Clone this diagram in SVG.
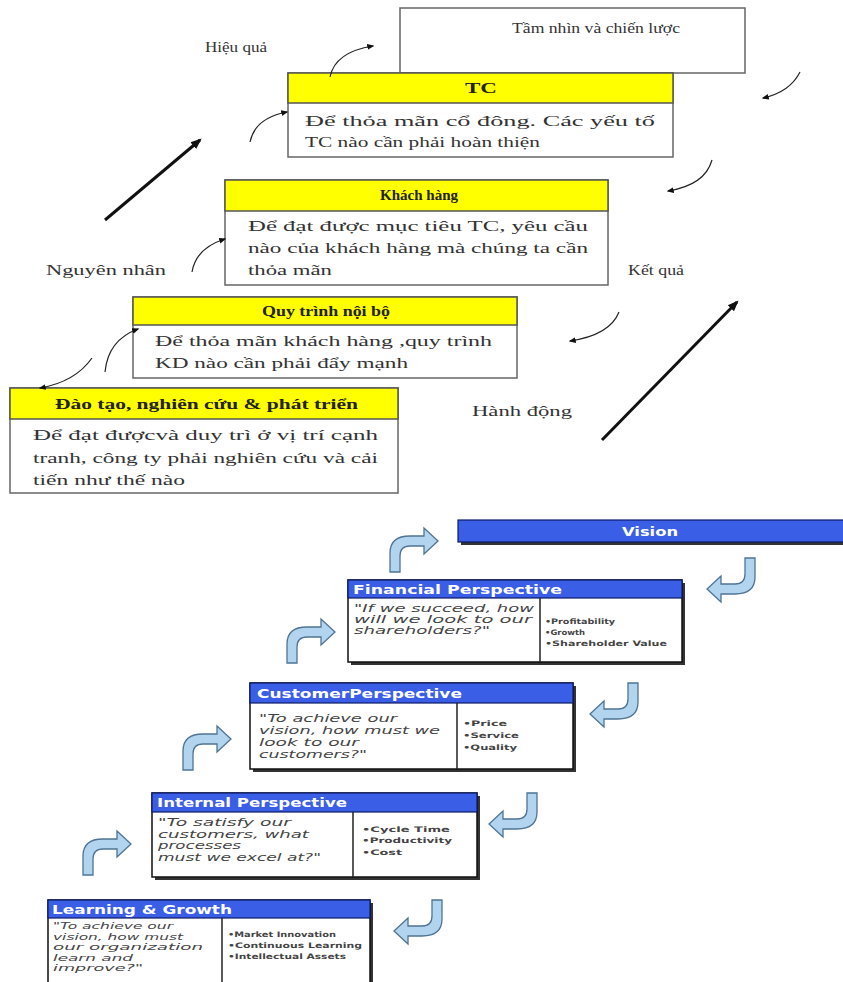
<svg xmlns="http://www.w3.org/2000/svg" width="843" height="982" viewBox="0 0 843 982">
<defs>
<style>
.sf{font-family:"Liberation Serif","DejaVu Serif","Times New Roman",serif;fill:#333;font-size:15px}
.hd{font-weight:bold;fill:#222}
.ybox{fill:#fff;stroke:#666;stroke-width:1.5}
.yhead{fill:#ffff00;stroke:#555;stroke-width:1.5}
.curve{fill:none;stroke:#222;stroke-width:1.2}
.thick{fill:none;stroke:#111;stroke-width:3}
.bhead{fill:#3b5ee6;stroke:#0b1a66;stroke-width:1.2}
.bbox{fill:#fff;stroke:#111;stroke-width:1.5}
.shadow{fill:#333}
.div{stroke:#222;stroke-width:1.5}
.ht{font-family:"DejaVu Sans",Verdana,sans-serif;font-weight:bold;fill:#fff;font-size:12px}
.q{font-family:"DejaVu Sans",Verdana,sans-serif;font-style:italic;fill:#444;font-size:10.5px}
.q2{font-size:9.5px}
.b{font-family:"DejaVu Sans",Verdana,sans-serif;fill:#444;font-size:7.5px;font-weight:bold}
.barrow{fill:#b3d4ee;stroke:#4f7494;stroke-width:1.3}
</style>
<marker id="ah" viewBox="0 0 10 10" refX="8" refY="5" markerWidth="6" markerHeight="6" orient="auto"><path d="M0,1 L10,5 L0,9 Z" fill="#111"/></marker>
<marker id="ah2" viewBox="0 0 10 10" refX="8" refY="5" markerUnits="userSpaceOnUse" markerWidth="11" markerHeight="11" orient="auto"><path d="M0,1 L10,5 L0,9 Z" fill="#111"/></marker>
<path id="ur" d="M0,45 L0,26 Q0,9 20,9 L34,9 L34,1 L48,14 L34,27 L34,19 L20,19 Q10,19 10,29 L10,45 Z"/>
</defs>

<!-- TOP SECTION -->
<g id="vision-vn">
<rect class="ybox" x="400" y="8" width="345" height="65"/>
<text class="sf" x="512" y="33" textLength="168" lengthAdjust="spacingAndGlyphs">Tầm nhìn và chiến lược</text>
</g>
<g id="tc">
<rect class="ybox" x="288" y="73" width="385" height="84"/>
<rect class="yhead" x="288" y="73" width="385" height="30"/>
<text class="sf hd" x="465" y="93" textLength="32" lengthAdjust="spacingAndGlyphs">TC</text>
<text class="sf" x="305" y="126" textLength="350" lengthAdjust="spacingAndGlyphs">Để thỏa mãn cổ đông. Các yếu tố</text>
<text class="sf" x="305" y="147" textLength="235" lengthAdjust="spacingAndGlyphs">TC nào cần phải hoàn thiện</text>
</g>
<g id="khach-hang">
<rect class="ybox" x="225" y="180" width="383" height="105"/>
<rect class="yhead" x="225" y="180" width="383" height="31"/>
<text class="sf hd" x="380" y="200" textLength="78" lengthAdjust="spacingAndGlyphs">Khách hàng</text>
<text class="sf" x="248" y="231" textLength="340" lengthAdjust="spacingAndGlyphs">Để đạt được mục tiêu TC, yêu cầu</text>
<text class="sf" x="248" y="253" textLength="340" lengthAdjust="spacingAndGlyphs">nào của khách hàng mà chúng ta cần</text>
<text class="sf" x="248" y="275" textLength="84" lengthAdjust="spacingAndGlyphs">thỏa mãn</text>
</g>
<g id="quy-trinh">
<rect class="ybox" x="133" y="297" width="384" height="81"/>
<rect class="yhead" x="133" y="297" width="384" height="28"/>
<text class="sf hd" x="262" y="316" textLength="128" lengthAdjust="spacingAndGlyphs">Quy trình nội bộ</text>
<text class="sf" x="155" y="346" textLength="337" lengthAdjust="spacingAndGlyphs">Để thỏa mãn khách hàng ,quy trình</text>
<text class="sf" x="155" y="368" textLength="253" lengthAdjust="spacingAndGlyphs">KD nào cần phải đẩy mạnh</text>
</g>
<g id="dao-tao">
<rect class="ybox" x="10" y="388" width="388" height="105"/>
<rect class="yhead" x="10" y="388" width="388" height="31"/>
<text class="sf hd" x="55" y="409" textLength="303" lengthAdjust="spacingAndGlyphs">Đào tạo, nghiên cứu &amp; phát triển</text>
<text class="sf" x="33" y="440" textLength="345" lengthAdjust="spacingAndGlyphs">Để đạt đượcvà duy trì ở vị trí cạnh</text>
<text class="sf" x="33" y="463" textLength="345" lengthAdjust="spacingAndGlyphs">tranh, công ty phải nghiên cứu và cải</text>
<text class="sf" x="33" y="485" textLength="152" lengthAdjust="spacingAndGlyphs">tiến như thế nào</text>
</g>
<g id="labels">
<text class="sf" x="205" y="52" textLength="62" lengthAdjust="spacingAndGlyphs">Hiệu quả</text>
<text class="sf" x="46" y="275" textLength="120" lengthAdjust="spacingAndGlyphs">Nguyên nhân</text>
<text class="sf" x="628" y="275" textLength="56" lengthAdjust="spacingAndGlyphs">Kết quả</text>
<text class="sf" x="472" y="416" textLength="100" lengthAdjust="spacingAndGlyphs">Hành động</text>
</g>
<g id="connectors">
<path class="curve" marker-end="url(#ah)" d="M330,77 Q335,52 373,46"/>
<path class="curve" marker-end="url(#ah)" d="M250,142 Q255,118 287,112"/>
<path class="thick" marker-end="url(#ah2)" d="M105,220 L200,140"/>
<path class="curve" marker-end="url(#ah)" d="M800,72 Q790,92 763,98"/>
<path class="curve" marker-end="url(#ah)" d="M712,160 Q705,185 668,191"/>
<path class="curve" marker-end="url(#ah)" d="M192,272 Q196,248 225,239"/>
<path class="thick" marker-end="url(#ah2)" d="M602,440 L737,302"/>
<path class="curve" marker-end="url(#ah)" d="M619,312 Q610,335 570,341"/>
<path class="curve" marker-end="url(#ah)" d="M105,372 Q108,340 138,329"/>
<path class="curve" marker-end="url(#ah)" d="M92,358 Q75,382 40,388"/>
<use href="#ur" class="barrow" transform="translate(390,527)"/>
<use href="#ur" class="barrow" transform="translate(287,618)"/>
<use href="#ur" class="barrow" transform="translate(183,725)"/>
<use href="#ur" class="barrow" transform="translate(83,830)"/>
<use href="#ur" class="barrow" transform="translate(755,603) rotate(180)"/>
<use href="#ur" class="barrow" transform="translate(638,728) rotate(180)"/>
<use href="#ur" class="barrow" transform="translate(537,838) rotate(180)"/>
<use href="#ur" class="barrow" transform="translate(442,945) rotate(180)"/>
</g>

<!-- BOTTOM SECTION -->
<g id="vision">
<rect class="shadow" x="461" y="523" width="390" height="22"/>
<rect class="bhead" x="458" y="520" width="390" height="22"/>
<text class="ht" x="622" y="536" textLength="56" lengthAdjust="spacingAndGlyphs">Vision</text>
</g>
<g id="financial">
<rect class="shadow" x="351" y="583" width="334" height="82"/>
<rect class="bbox" x="348" y="580" width="334" height="82"/>
<rect class="bhead" x="348" y="580" width="334" height="18"/>
<line class="div" x1="540" y1="598" x2="540" y2="662"/>
<text class="ht" x="353" y="594" textLength="209" lengthAdjust="spacingAndGlyphs">Financial Perspective</text>
<text class="q" x="354" y="612" textLength="180" lengthAdjust="spacingAndGlyphs">"If we succeed, how</text>
<text class="q" x="354" y="623" textLength="178" lengthAdjust="spacingAndGlyphs">will we look to our</text>
<text class="q" x="354" y="634" textLength="136" lengthAdjust="spacingAndGlyphs">shareholders?"</text>
<text class="b" x="545" y="624" textLength="70" lengthAdjust="spacingAndGlyphs">•Profitability</text>
<text class="b" x="545" y="635" textLength="40" lengthAdjust="spacingAndGlyphs">•Growth</text>
<text class="b" x="545" y="646" textLength="122" lengthAdjust="spacingAndGlyphs">•Shareholder Value</text>
</g>
<g id="customer">
<rect class="shadow" x="253" y="686" width="323" height="86"/>
<rect class="bbox" x="250" y="683" width="323" height="86"/>
<rect class="bhead" x="250" y="683" width="323" height="20"/>
<line class="div" x1="457" y1="703" x2="457" y2="769"/>
<text class="ht" x="257" y="698" textLength="205" lengthAdjust="spacingAndGlyphs">CustomerPerspective</text>
<text class="q" x="259" y="722" textLength="138" lengthAdjust="spacingAndGlyphs">"To achieve our</text>
<text class="q" x="259" y="734" textLength="181" lengthAdjust="spacingAndGlyphs">vision, how must we</text>
<text class="q" x="259" y="746" textLength="100" lengthAdjust="spacingAndGlyphs">look to our</text>
<text class="q" x="259" y="758" textLength="108" lengthAdjust="spacingAndGlyphs">customers?"</text>
<text class="b" x="463" y="726" textLength="44" lengthAdjust="spacingAndGlyphs">•Price</text>
<text class="b" x="463" y="738" textLength="56" lengthAdjust="spacingAndGlyphs">•Service</text>
<text class="b" x="463" y="750" textLength="54" lengthAdjust="spacingAndGlyphs">•Quality</text>
</g>
<g id="internal">
<rect class="shadow" x="155" y="796" width="325" height="84"/>
<rect class="bbox" x="152" y="793" width="325" height="84"/>
<rect class="bhead" x="152" y="793" width="325" height="19"/>
<line class="div" x1="353" y1="812" x2="353" y2="877"/>
<text class="ht" x="157" y="807" textLength="190" lengthAdjust="spacingAndGlyphs">Internal Perspective</text>
<text class="q" x="158" y="826" textLength="133" lengthAdjust="spacingAndGlyphs">"To satisfy our</text>
<text class="q" x="158" y="837.5" textLength="151" lengthAdjust="spacingAndGlyphs">customers, what</text>
<text class="q" x="158" y="849" textLength="83" lengthAdjust="spacingAndGlyphs">processes</text>
<text class="q" x="158" y="860.5" textLength="163" lengthAdjust="spacingAndGlyphs">must we excel at?"</text>
<text class="b" x="362" y="832" textLength="88" lengthAdjust="spacingAndGlyphs">•Cycle Time</text>
<text class="b" x="362" y="843" textLength="90" lengthAdjust="spacingAndGlyphs">•Productivity</text>
<text class="b" x="362" y="855" textLength="40" lengthAdjust="spacingAndGlyphs">•Cost</text>
</g>
<g id="learning">
<rect class="shadow" x="51" y="903" width="322" height="95"/>
<rect class="bbox" x="48" y="900" width="322" height="95"/>
<rect class="bhead" x="48" y="900" width="322" height="18"/>
<line class="div" x1="222" y1="918" x2="222" y2="995"/>
<text class="ht" x="52" y="914" textLength="180" lengthAdjust="spacingAndGlyphs">Learning &amp; Growth</text>
<text class="q q2" x="53" y="929" textLength="120" lengthAdjust="spacingAndGlyphs">"To achieve our</text>
<text class="q q2" x="53" y="939.5" textLength="130" lengthAdjust="spacingAndGlyphs">vision, how must</text>
<text class="q q2" x="53" y="950" textLength="150" lengthAdjust="spacingAndGlyphs">our organization</text>
<text class="q q2" x="53" y="960.5" textLength="80" lengthAdjust="spacingAndGlyphs">learn and</text>
<text class="q q2" x="53" y="971" textLength="90" lengthAdjust="spacingAndGlyphs">improve?"</text>
<text class="b" x="228" y="937" textLength="108" lengthAdjust="spacingAndGlyphs">•Market Innovation</text>
<text class="b" x="228" y="948" textLength="134" lengthAdjust="spacingAndGlyphs">•Continuous Learning</text>
<text class="b" x="228" y="959" textLength="118" lengthAdjust="spacingAndGlyphs">•Intellectual Assets</text>
</g>
</svg>
